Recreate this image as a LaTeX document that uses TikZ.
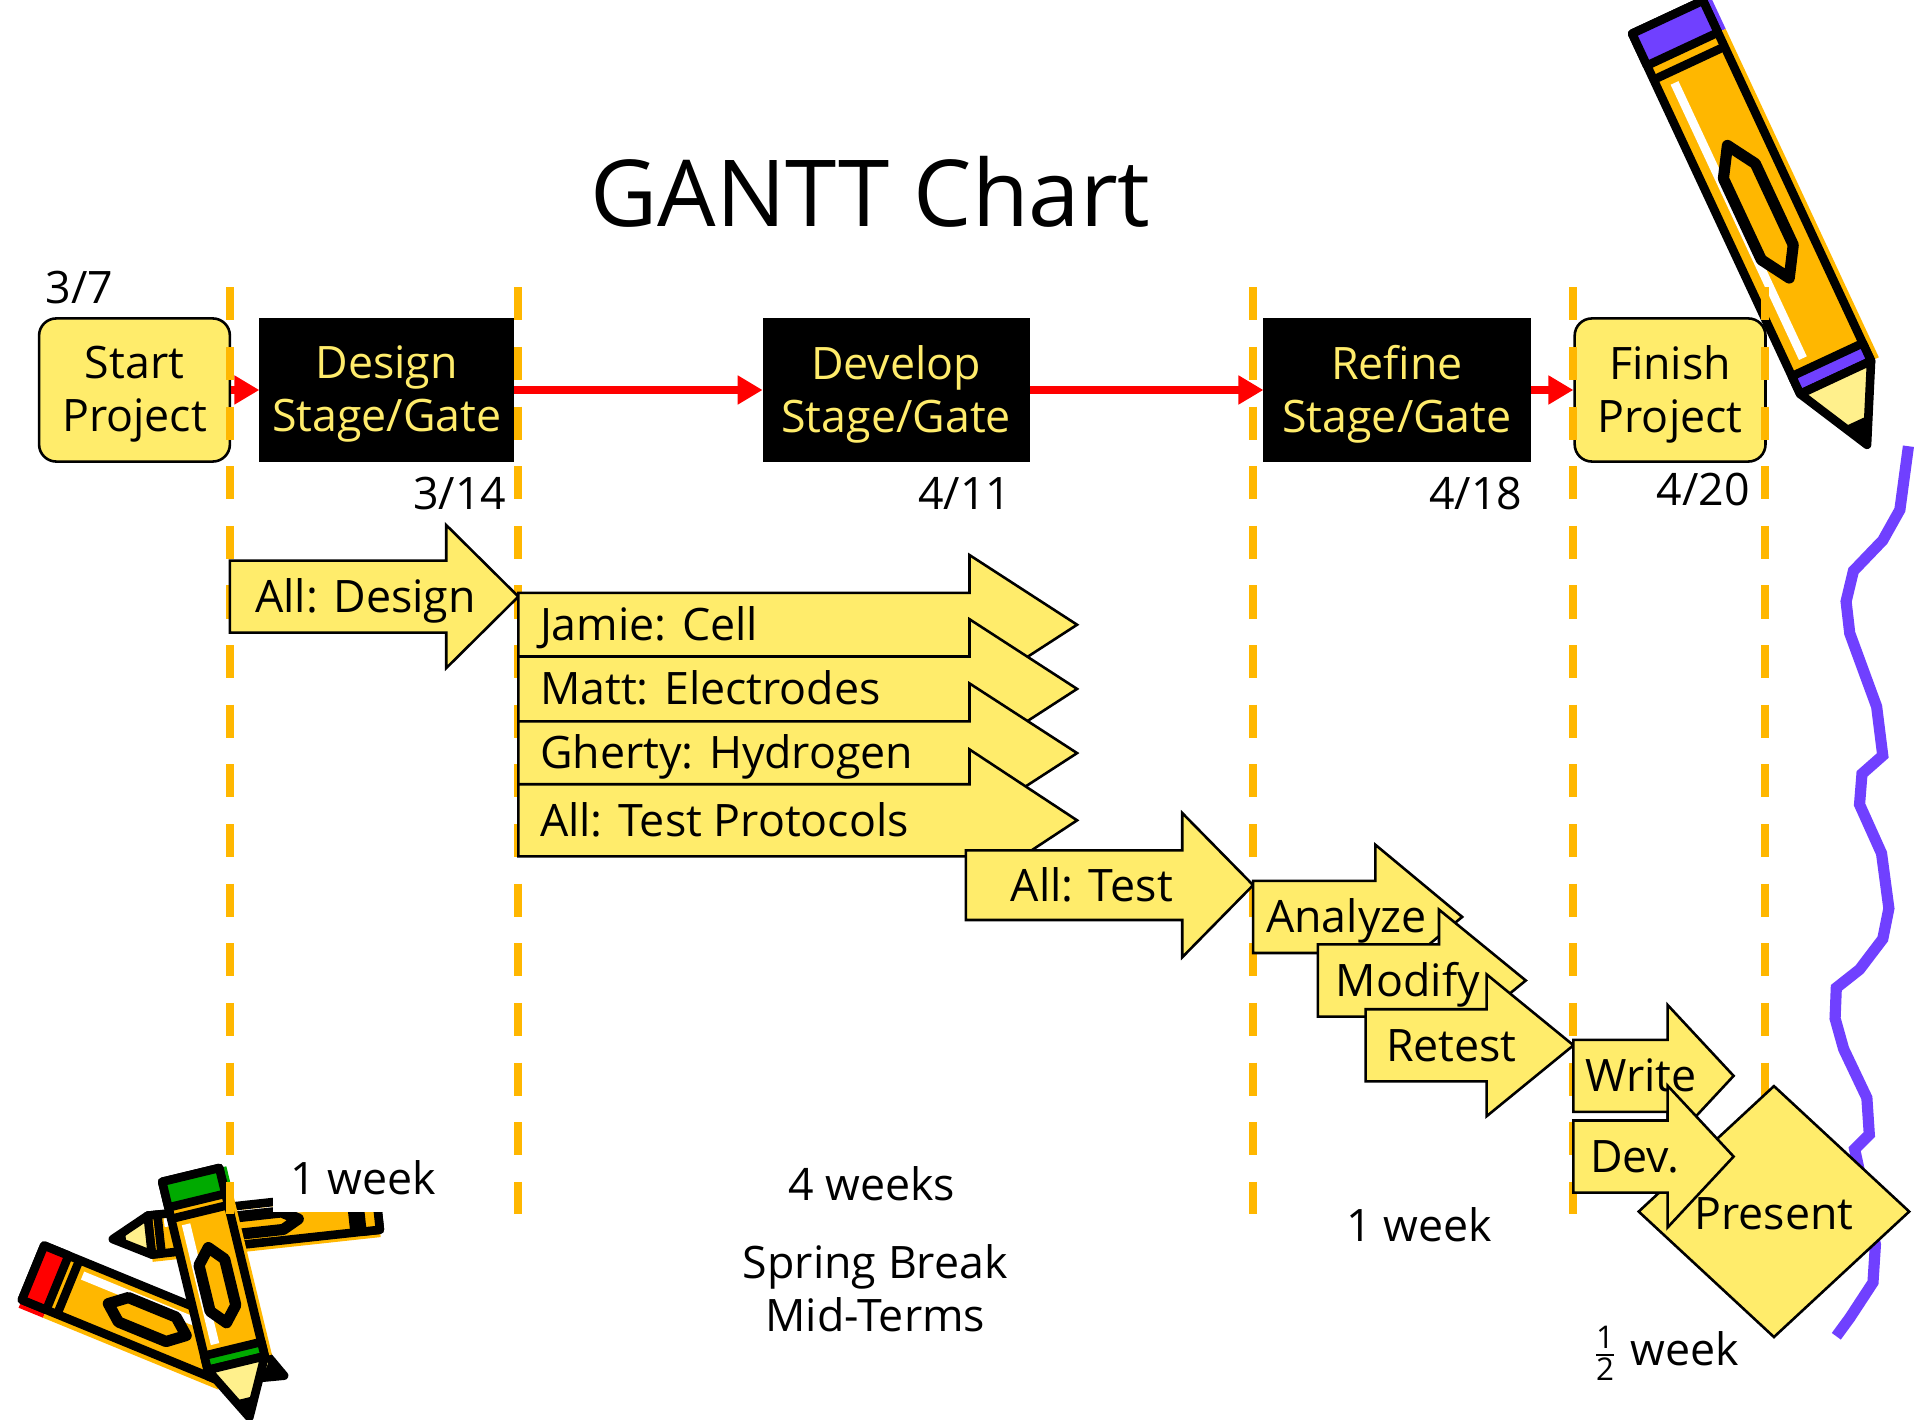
\documentclass[tikz,border=0pt]{standalone}
\usepackage{amsmath}
\usepackage{fontspec}
\setmainfont{Open Sans}
\usetikzlibrary{arrows.meta, positioning, shapes.geometric}
\definecolor{gateyellow}{RGB}{255,236,107}
\definecolor{gateorange}{RGB}{255,183,0}
\definecolor{flowred}{RGB}{255,0,0}
\definecolor{inkpurple}{RGB}{112,64,255}
\definecolor{capgreen}{RGB}{0,170,0}
\definecolor{woodpale}{RGB}{255,240,140}
\newcommand{\chartfont}{\fontsize{10.4}{12.3}\selectfont}

% clip-art pencil: tail point, angle, length, half width, eraser colour, shadow shift
\newcommand{\drawpencil}[6]{%
  \begin{scope}[shift={#1}, rotate=#2]
    \pgfmathsetmacro\pL{#3}
    \pgfmathsetmacro\pW{#4}
    \pgfmathsetmacro\pT{1.9*#4}
    \pgfmathsetmacro\pE{0.9*#4}
    \pgfmathsetmacro\pS{#6}
    \pgfmathsetmacro\pH{ifthenelse(#6>0,-1,1)*0.55*#4}
    % offset shadow
    \fill[#5] (0,{\pS-\pW}) rectangle (\pE,{\pS+\pW});
    \fill[gateorange] (\pE,{\pS-\pW}) rectangle ({\pL-\pT},{\pS+\pW});
    % barrel, eraser and bands
    \draw[pencil line, fill=gateorange] (0,-\pW) rectangle ({\pL-\pT},\pW);
    \draw[pencil line, fill=#5] (0,-\pW) rectangle (\pE,\pW);
    \draw[pencil line] ({\pE+0.4*\pW},-\pW) -- ({\pE+0.4*\pW},\pW);
    \draw[pencil line, fill=#5] ({\pL-\pT-0.5*\pW},-\pW) rectangle ({\pL-\pT},\pW);
    \draw[white, line width=2pt] ({\pE+0.7*\pW},\pH) -- ({\pL-\pT-0.8*\pW},\pH);
    \draw[pencil line, line width=2.6pt]
      ({0.30*\pL},0) -- ({0.36*\pL},{-0.45*\pW}) -- ({0.55*\pL},{-0.45*\pW})
      -- ({0.61*\pL},0) -- ({0.55*\pL},{0.45*\pW}) -- ({0.36*\pL},{0.45*\pW}) -- cycle;
    % sharpened end
    \draw[pencil line, fill=woodpale] ({\pL-\pT},-\pW) -- (\pL,0) -- ({\pL-\pT},\pW) -- cycle;
    \fill ({\pL-0.35*\pT},{-0.35*\pW}) -- (\pL,0) -- ({\pL-0.35*\pT},{0.35*\pW}) -- cycle;
  \end{scope}}

% bar with arrow head: name, left x, centre y, half body, head base x, tip x, half head, text pad, text
\newcommand{\taskarrow}[9]{%
  \draw[taskbar] (#2,#3-#4) -- (#5,#3-#4) -- (#5,#3-#7) -- (#6,#3)
    -- (#5,#3+#7) -- (#5,#3+#4) -- (#2,#3+#4) -- cycle;
  \node[tasklabel] (#1) at (#2+#8,#3+13) {#9};}

\begin{document}
\begin{tikzpicture}[
  x=0.01cm, y=-0.01cm,
  font=\chartfont,
  milestone/.style={draw=black, fill=gateyellow, rounded corners=4pt, line width=0.6pt,
                    minimum width=1.56cm, minimum height=1.17cm, align=center, inner sep=0pt,
                    text depth=0.5pt},
  stagegate/.style={draw=black, fill=black, text=gateyellow, minimum width=2.17cm,
                    minimum height=1.16cm, align=center, inner sep=0pt, text depth=0.5pt},
  flow/.style={-{Triangle[length=5.8pt, width=6.4pt]}, line width=1.8pt, flowred},
  gateline/.style={gateorange, line width=1.85pt, dash pattern=on 0.27cm off 0.2175cm},
  taskbar/.style={draw=black, fill=gateyellow, line width=0.6pt, line join=miter},
  tasklabel/.style={anchor=base west, inner sep=0pt},
  pencil line/.style={draw=black, line width=2pt, line join=round},
  squiggle/.style={inkpurple, line width=2.6pt, line join=miter}
]
\fill[white] (0,0) rectangle (1568,1161);
\useasboundingbox (0,0) rectangle (1568,1161);

% wavy ink trail and pencils
\draw[squiggle] (1561,365) -- (1554,417) -- (1540,442) -- (1516,467) -- (1510,492)
  -- (1513,518) -- (1535,578) -- (1540,618) -- (1523,633) -- (1521,658) -- (1539,698)
  -- (1545,743) -- (1540,768) -- (1521,793) -- (1502,808) -- (1501,833) -- (1508,858)
  -- (1527,898) -- (1529,928) -- (1517,940) -- (1534,1018) -- (1532,1049)
  -- (1513,1078) -- (1502,1093);
\drawpencil{(1364,14)}{-65}{386}{32}{inkpurple}{-7}
\drawpencil{(309,990)}{186.2}{218}{16}{gateorange}{-6}
\drawpencil{(27,1041)}{-22.3}{222}{24}{flowred}{7}
\drawpencil{(156,961)}{-76.4}{204}{24}{capgreen}{-6}

% stage/gate row
\node[milestone] (start) at (110,319) {Start\\Project};
\node[stagegate, minimum width=2.07cm, right=0.23cm of start] (design) {Design\\Stage/Gate};
\node[stagegate, right=2.03cm of design] (develop) {Develop\\Stage/Gate};
\node[stagegate, right=1.91cm of develop] (refine) {Refine\\Stage/Gate};
\node[milestone, right=0.35cm of refine] (finish) {Finish\\Project};
\foreach \a/\b in {start/design,design/develop,develop/refine,refine/finish}
  \draw[flow] (\a) -- (\b);

\foreach \x in {188,424,1025,1287,1444}
  \draw[gateline] (\x,235) -- (\x,993);

\node[font=\fontsize{21.5}{26}\selectfont] (title) at (712,157) {GANTT Chart};
\node (d37) at (65,235) {3/7};
\node (d314) at (376,404) {3/14};
\node (d411) at (789,404) {4/11};
\node (d418) at (1207,404) {4/18};
\node (d420) at (1393,400) {4/20};

% tasks
\taskarrow{alldesign}{188}{488}{29.5}{365}{424}{58.5}{20}{All: Design}
\taskarrow{jamie}{424}{511}{26}{793}{881}{57}{17}{Jamie: Cell}
\taskarrow{matt}{424}{563.5}{26.5}{793}{881}{57}{17}{Matt: Electrodes}
\taskarrow{gherty}{424}{616}{26}{793}{881}{57}{17}{Gherty: Hydrogen}
\taskarrow{protocols}{424}{671}{29.5}{793}{881}{58}{17}{All: Test Protocols}
\taskarrow{alltest}{790}{724}{28.5}{967}{1025}{59}{36}{All: Test}
\taskarrow{analyze}{1025}{750}{29.5}{1125}{1196}{59}{10}{Analyze}
\taskarrow{modify}{1078}{802}{29.5}{1177}{1248}{58}{14}{Modify}
\taskarrow{retest}{1117}{855}{29.5}{1216}{1287}{58}{16}{Retest}
\node[diamond, draw=black, fill=gateyellow, line width=0.6pt, minimum width=2.22cm,
      minimum height=2.06cm, inner sep=0pt] (present) at (1451,991) {};
\taskarrow{write}{1287}{880}{29.5}{1364}{1418}{58}{9}{Write}
\taskarrow{dev}{1287}{946}{29.5}{1364}{1418}{58}{13}{Dev.}
\node (presentlabel) at (1451,993) {Present};

% durations
\node[fill=white, inner sep=4pt] (wk1) at (297,963) {1 week};
\node (wk4) at (713,968) {4 weeks};
\node[align=center] (breaks) at (716,1054) {Spring Break\\Mid-Terms};
\node (wk1b) at (1161,1002) {1 week};
\node (wkhalf) at (1362,1107) {$\frac{\text{1}}{\text{2}}$ week};
\end{tikzpicture}
\end{document}
